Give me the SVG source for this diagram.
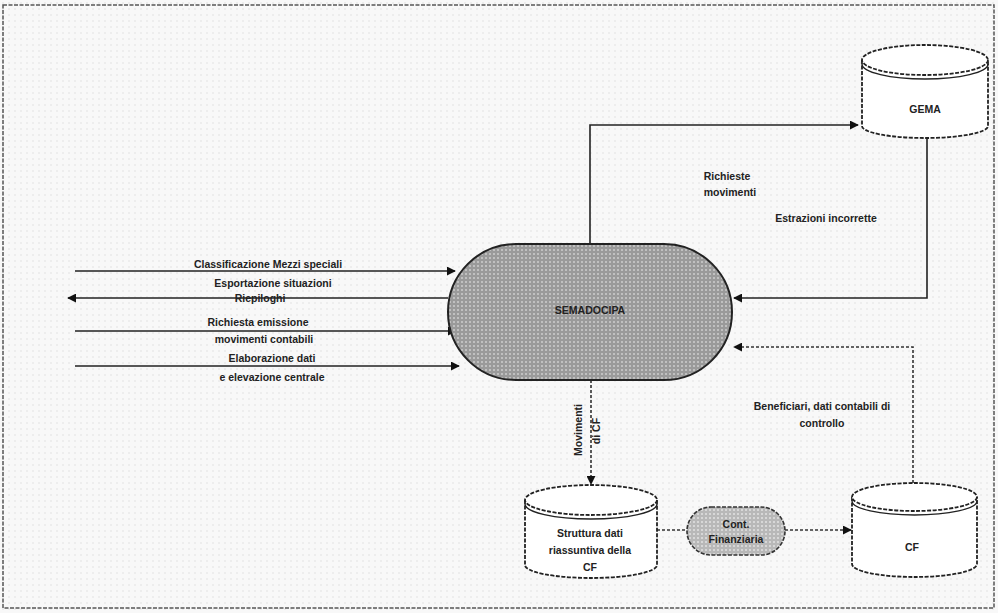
<svg xmlns="http://www.w3.org/2000/svg" width="998" height="613" viewBox="0 0 998 613">
<defs>
<pattern id="dots" width="4" height="4" patternUnits="userSpaceOnUse"><rect width="4" height="4" fill="#9a9a9a"/><circle cx="2" cy="2" r="1" fill="#cdcdcd"/></pattern>
<pattern id="dotsL" width="4" height="4" patternUnits="userSpaceOnUse"><rect width="4" height="4" fill="#b8b8b8"/><circle cx="2" cy="2" r="1" fill="#e2e2e2"/></pattern>
<pattern id="bg" width="6" height="6" patternUnits="userSpaceOnUse"><rect width="6" height="6" fill="#f8f8f8"/><circle cx="3" cy="3" r="0.7" fill="#dcdcdc"/></pattern>
<marker id="ah" viewBox="0 0 10 10" refX="9" refY="5" markerWidth="9" markerHeight="9" orient="auto" markerUnits="userSpaceOnUse"><path d="M0,0 L10,5 L0,10 z" fill="#111"/></marker>
</defs>
<style>
.t{font-family:"Liberation Sans",Arial,sans-serif;font-size:10.5px;font-weight:bold;fill:#222;text-anchor:middle}
.c{fill:none;stroke:#222;stroke-width:1.6}
.d{fill:none;stroke:#333;stroke-width:1.6;stroke-dasharray:3,2}
.cyl{fill:#fff;stroke:#222;stroke-width:1.8;stroke-dasharray:4,1.5}
</style>
<rect x="0" y="0" width="998" height="613" fill="url(#bg)"/>
<rect x="3" y="5" width="991" height="603" fill="none" stroke="#555" stroke-width="1.5" stroke-dasharray="4,1.5"/>

<g id="connectors">
<path class="c" d="M590,244 V125 H858" marker-end="url(#ah)"/>
<path class="c" d="M927,138 V298 H734" marker-end="url(#ah)"/>
<path class="d" d="M913,483 V347 H734" marker-end="url(#ah)"/>
<path class="d" d="M591,380 V484" marker-end="url(#ah)"/>
<path class="d" d="M657,530 H687"/>
<path class="d" d="M785,530 H851" marker-end="url(#ah)"/>
<path class="c" d="M75,271 H455" marker-end="url(#ah)"/>
<path class="c" d="M448,298 H68" marker-end="url(#ah)"/>
<path class="c" d="M75,331 H456" marker-end="url(#ah)"/>
<path class="c" d="M75,366 H459" marker-end="url(#ah)"/>
<text class="t" x="268" y="268">Classificazione Mezzi speciali</text>
<text class="t" x="273" y="287">Esportazione situazioni</text>
<text class="t" x="260" y="302">Riepiloghi</text>
<text class="t" x="258" y="326">Richiesta emissione</text>
<text class="t" x="264" y="343">movimenti contabili</text>
<text class="t" x="272" y="362">Elaborazione dati</text>
<text class="t" x="272" y="381">e elevazione centrale</text>
<text class="t" x="727" y="180">Richieste</text>
<text class="t" x="730" y="196">movimenti</text>
<text class="t" x="826" y="222">Estrazioni incorrette</text>
<text class="t" x="822" y="410">Beneficiari, dati contabili di</text>
<text class="t" x="822" y="427">controllo</text>
<text class="t" transform="translate(582,430) rotate(-90)">Movimenti</text>
<text class="t" transform="translate(600,431) rotate(-90)">di CF</text>
</g>

<g id="main">
<rect x="448" y="244" width="284" height="136" rx="68" ry="68" fill="url(#dots)" stroke="#222" stroke-width="2"/>
<text class="t" x="590" y="314">SEMADOCIPA</text>
</g>

<g id="gema">
<path class="cyl" d="M862,60 V126 A63,12 0 0 0 988,126 V60"/>
<ellipse class="cyl" cx="925" cy="60" rx="63" ry="15"/>
<path fill="none" stroke="#222" stroke-width="1.4" d="M862,64 A63,15 0 0 0 988,64"/>
<text class="t" x="925" y="113">GEMA</text>
</g>

<g id="struttura">
<path class="cyl" d="M525,500 V565 A66,13 0 0 0 657,565 V500"/>
<ellipse class="cyl" cx="591" cy="500" rx="66" ry="15"/>
<path fill="none" stroke="#222" stroke-width="1.4" d="M525,504 A66,15 0 0 0 657,504"/>
<text class="t" x="590" y="537">Struttura dati</text>
<text class="t" x="590" y="554">riassuntiva della</text>
<text class="t" x="590" y="571">CF</text>
</g>

<g id="cont">
<rect x="687" y="507" width="98" height="48" rx="24" ry="24" fill="url(#dotsL)" stroke="#333" stroke-width="1.6" stroke-dasharray="4,1.5"/>
<text class="t" x="736" y="528">Cont.</text>
<text class="t" x="736" y="543">Finanziaria</text>
</g>

<g id="cf">
<path class="cyl" d="M852,497 V564 A62.5,13 0 0 0 977,564 V497"/>
<ellipse class="cyl" cx="914.5" cy="497" rx="62.5" ry="14"/>
<path fill="none" stroke="#222" stroke-width="1.4" d="M852,501 A62.5,14 0 0 0 977,501"/>
<text class="t" x="912" y="551">CF</text>
</g>
</svg>
